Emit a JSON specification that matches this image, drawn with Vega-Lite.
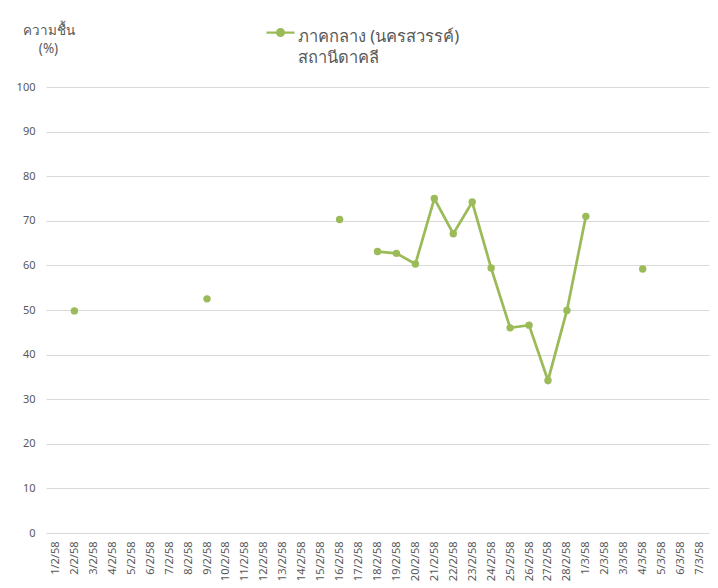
{
  "$schema": "https://vega.github.io/schema/vega-lite/v6.json",
  "autosize": "none",
  "width": 663,
  "height": 446,
  "padding": {"left": 46, "top": 87, "right": 9, "bottom": 55},
  "background": "white",
  "config": {
    "view": {"stroke": null},
    "font": "Noto Sans",
    "axis": {"labelColor": "#595959", "labelFont": "Noto Sans", "labelFontSize": 11, "gridColor": "#d9d9d9", "gridWidth": 1, "domain": false, "ticks": false}
  },
  "data": {
    "values": [
      {"date": "1/2/58", "series": "s", "value": null},
      {"date": "2/2/58", "series": "s", "value": 49.8},
      {"date": "3/2/58", "series": "s", "value": null},
      {"date": "4/2/58", "series": "s", "value": null},
      {"date": "5/2/58", "series": "s", "value": null},
      {"date": "6/2/58", "series": "s", "value": null},
      {"date": "7/2/58", "series": "s", "value": null},
      {"date": "8/2/58", "series": "s", "value": null},
      {"date": "9/2/58", "series": "s", "value": 52.5},
      {"date": "10/2/58", "series": "s", "value": null},
      {"date": "11/2/58", "series": "s", "value": null},
      {"date": "12/2/58", "series": "s", "value": null},
      {"date": "13/2/58", "series": "s", "value": null},
      {"date": "14/2/58", "series": "s", "value": null},
      {"date": "15/2/58", "series": "s", "value": null},
      {"date": "16/2/58", "series": "s", "value": 70.3},
      {"date": "17/2/58", "series": "s", "value": null},
      {"date": "18/2/58", "series": "s", "value": 63.1},
      {"date": "19/2/58", "series": "s", "value": 62.7},
      {"date": "20/2/58", "series": "s", "value": 60.3},
      {"date": "21/2/58", "series": "s", "value": 75.0},
      {"date": "22/2/58", "series": "s", "value": 67.1},
      {"date": "23/2/58", "series": "s", "value": 74.2},
      {"date": "24/2/58", "series": "s", "value": 59.4},
      {"date": "25/2/58", "series": "s", "value": 46.0},
      {"date": "26/2/58", "series": "s", "value": 46.6},
      {"date": "27/2/58", "series": "s", "value": 34.2},
      {"date": "28/2/58", "series": "s", "value": 49.9},
      {"date": "1/3/58", "series": "s", "value": 71.0},
      {"date": "2/3/58", "series": "s", "value": null},
      {"date": "3/3/58", "series": "s", "value": null},
      {"date": "4/3/58", "series": "s", "value": 59.2},
      {"date": "5/3/58", "series": "s", "value": null},
      {"date": "6/3/58", "series": "s", "value": null},
      {"date": "7/3/58", "series": "s", "value": null}
    ]
  },
  "encoding": {
    "x": {
      "field": "date", "type": "ordinal", "sort": null,
      "scale": {"type": "point", "padding": 0.5},
      "axis": {"title": null, "labelAngle": -90, "grid": false, "labelPadding": 8}
    },
    "y": {
      "field": "value", "type": "quantitative",
      "scale": {"domain": [0, 100]},
      "axis": {
        "values": [0, 10, 20, 30, 40, 50, 60, 70, 80, 90, 100],
        "title": ["ความชื้น", "(%)"],
        "titleAngle": 0, "titleAlign": "center", "titleBaseline": "top",
        "titleX": 2, "titleY": -64, "titleFont": "Noto Sans", "titleFontSize": 13.5,
        "titleFontWeight": "normal", "titleColor": "#595959", "titleLineHeight": 18,
        "labelPadding": 11
      }
    },
    "color": {
      "field": "series", "type": "nominal",
      "scale": {"range": ["#9BBB59"]},
      "legend": {
        "orient": "none", "legendX": 219, "legendY": -70, "title": null,
        "labelExpr": "['ภาคกลาง (นครสวรรค์)', 'สถานีดาคลี']",
        "labelFontSize": 16.5, "labelColor": "#595959", "labelFont": "Noto Sans",
        "labelBaseline": "alphabetic", "labelOffset": 2, "labelLimit": 0,
        "symbolType": "M-1,0L1,0M-0.24,0A0.24,0.24 0 1,1 0.24,0A0.24,0.24 0 1,1 -0.24,0",
        "symbolSize": 784, "symbolStrokeWidth": 2.25, "symbolFillColor": "#9BBB59", "symbolStrokeColor": "#9BBB59",
        "labelOpacity": 1,
        "symbolOpacity": 1,
        "encode": {"labels": {"update": {"lineHeight": {"value": 21}, "dy": {"value": 9}}}}
      }
    }
  },
  "layer": [
    {"mark": {"type": "line", "strokeWidth": 2.75, "invalid": "break-paths-filter-domains"}},
    {"mark": {"type": "point", "filled": true, "size": 55, "opacity": 1}}
  ]
}
